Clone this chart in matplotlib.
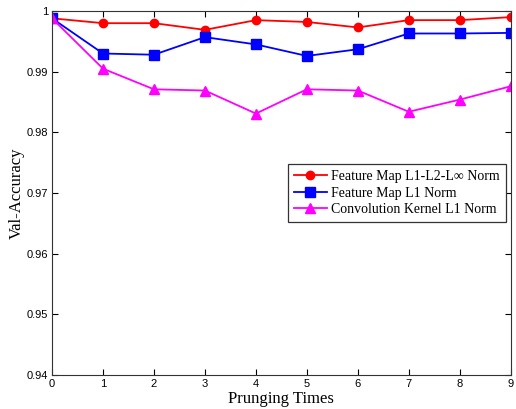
import matplotlib.pyplot as plt
import numpy as np

times = np.arange(10)
fm_l1l2linf = [0.9988, 0.9980, 0.9980, 0.9969, 0.9985, 0.9982, 0.9973, 0.9985, 0.9985, 0.9990]
fm_l1 = [0.9988, 0.9930, 0.9928, 0.9957, 0.9945, 0.9926, 0.9937, 0.9963, 0.9963, 0.9964]
kernel_l1 = [0.9988, 0.9905, 0.9871, 0.9869, 0.9831, 0.9871, 0.9869, 0.9834, 0.9854, 0.9876]

fig = plt.figure(figsize=(5.16, 4.09), dpi=100)
ax = fig.add_axes([0.1008, 0.083, 0.889, 0.89])

ax.plot(times, fm_l1l2linf, color='r', marker='o', markersize=6, linewidth=1.3,
        label='Feature Map L1-L2-L\u221e Norm')
ax.plot(times, fm_l1, color='b', marker='s', markersize=7, linewidth=1.3,
        label='Feature Map L1 Norm')
ax.plot(times, kernel_l1, color='magenta', marker='^', markersize=6.5, linewidth=1.3,
        label='Convolution Kernel L1 Norm')

ax.set_xlim(0, 9)
ax.set_ylim(0.94, 1.0)
ax.set_xticks(range(10))
ax.set_yticks([0.94, 0.95, 0.96, 0.97, 0.98, 0.99, 1.0])
ax.set_yticklabels(['0.94', '0.95', '0.96', '0.97', '0.98', '0.99', '1'])
ax.tick_params(direction='in', top=True, right=True, length=4, labelsize=8, pad=3)
for lbl in ax.get_xticklabels() + ax.get_yticklabels():
    lbl.set_family('Liberation Sans')
for s in ax.spines.values():
    s.set_color('#333333')

ax.set_xlabel('Prunging Times', family='Liberation Serif', fontsize=12, labelpad=1)
ax.set_ylabel('Val-Accuracy', family='Liberation Serif', fontsize=12, labelpad=1)

leg = ax.legend(loc='upper right', bbox_to_anchor=(0.99, 0.58), fancybox=False,
                edgecolor='#333333', framealpha=1, borderaxespad=0,
                prop={'family': 'Liberation Serif', 'size': 10},
                handlelength=2.4, handletextpad=0.3, labelspacing=0.25, borderpad=0.45)
leg.get_frame().set_linewidth(0.9)

fig.savefig('out.png', dpi=100)
